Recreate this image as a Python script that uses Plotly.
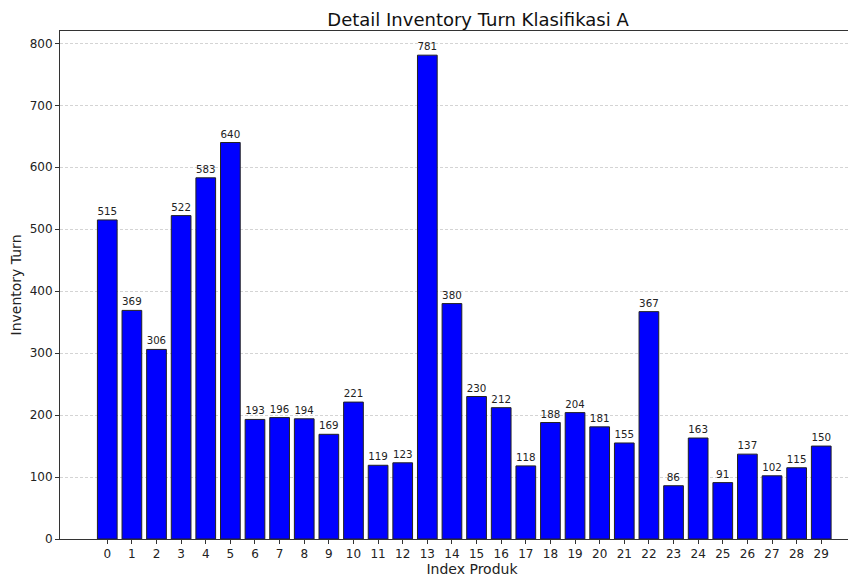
import plotly.graph_objects as go

# data
index_produk = list(range(30))
inventory_turn = [515, 369, 306, 522, 583, 640, 193, 196, 194, 169,
                  221, 119, 123, 781, 380, 230, 212, 118, 188, 204,
                  181, 155, 367, 86, 163, 91, 137, 102, 115, 150]

FIG_W = 876
PX_PER_UNIT = 24.62

fig = go.Figure()
fig.add_trace(go.Bar(
    x=index_produk, y=inventory_turn,
    marker=dict(color='#0000ff', line=dict(color='#222222', width=1)),
    text=[str(v) for v in inventory_turn], textposition='outside',
    textfont=dict(size=10.5, color='#222222'), cliponaxis=False,
    width=0.8,
))

# page has an 8px body margin; the axes box runs past the right edge of the window
fig.update_layout(
    width=FIG_W, height=576,
    margin=dict(l=52, r=0, t=23, b=45),
    paper_bgcolor='white', plot_bgcolor='white',
    font=dict(family='DejaVu Sans', color='#222222'),
    title=dict(text='Detail Inventory Turn Klasifikasi A', x=(478 - 8) / FIG_W,
               xanchor='center', y=0.979, yanchor='middle',
               font=dict(size=18, color='#111111')),
    showlegend=False,
)
fig.update_xaxes(
    range=[-1.92, -1.92 + (FIG_W - 52) / PX_PER_UNIT], tickmode='array', tickvals=index_produk,
    ticks='outside', ticklen=4, tickcolor='#333', tickfont=dict(size=12),
    showline=True, linecolor='#333', linewidth=1, mirror=True,
    showgrid=False, zeroline=False,
    title=dict(text='Index Produk', font=dict(size=14), standoff=3),
)
fig.update_yaxes(
    range=[0, 820], tickvals=[0, 100, 200, 300, 400, 500, 600, 700, 800],
    ticks='outside', ticklen=4, tickcolor='#333', tickfont=dict(size=12),
    showline=True, linecolor='#333', linewidth=1,
    showgrid=True, gridcolor='#d4d4d4', griddash='3px,2px', gridwidth=0.8,
    zeroline=False,
    title=dict(text='Inventory Turn', font=dict(size=14), standoff=8),
)

fig.write_html("out.html")
